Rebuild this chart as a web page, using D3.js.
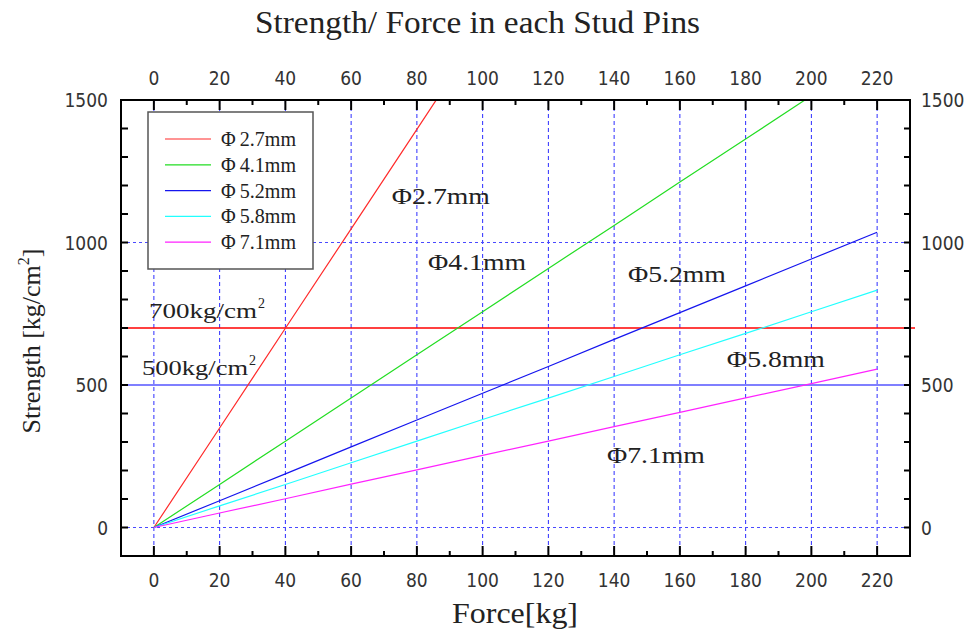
<!DOCTYPE html>
<html><head><meta charset="utf-8">
<script src="https://cdn.jsdelivr.net/npm/d3@7"></script>
<style>
body{margin:0;background:#fff;}
svg{display:block;}
.tick-label{font-family:"Liberation Sans Narrow","DejaVu Sans Condensed",sans-serif;font-size:19px;fill:#333;}
.serif{font-family:"Liberation Serif","DejaVu Serif",serif;fill:#222;}
</style></head>
<body>
<svg id="chart" width="971" height="633"></svg>
<script>
// ---- data ----
const forces = [0, 20, 40, 60, 80, 100, 120, 140, 160, 180, 200, 220];
const seriesNames = ["Φ2.7mm", "Φ4.1mm", "Φ5.2mm", "Φ5.8mm", "Φ7.1mm"];
const strength27 = [0, 349, 699, 1048, 1397, 1747, 2096, 2445, 2795, 3144, 3493, 3843];
const strength41 = [0, 151, 303, 454, 606, 757, 909, 1060, 1212, 1363, 1515, 1666];
const strength52 = [0, 94, 188, 283, 377, 471, 565, 660, 754, 848, 942, 1036];
const strength58 = [0, 76, 151, 227, 303, 379, 454, 530, 606, 681, 757, 833];
const strength71 = [0, 51, 101, 152, 202, 253, 303, 354, 404, 455, 505, 556];
const seriesColors = ["#ff2a2a", "#22dd22", "#1515ee", "#22ffff", "#ff22ff"];
const xTicks = [0, 20, 40, 60, 80, 100, 120, 140, 160, 180, 200, 220];
const yTicks = [0, 500, 1000, 1500];
const refValues = [700, 500];
const refLabels = ["700kg/cm", "500kg/cm"];
const refColors = ["#ff0000", "#5555ff"];
// in-plot annotation anchors (data coordinates)
const annoX = [72.4, 83.4, 144.2, 174.3, 137.8];
const annoY = [1135, 903, 861, 563, 226];
const refLabelX = [-1.5, -3.6];
const refLabelY = [735, 535];

const allSeries = [strength27, strength41, strength52, strength58, strength71];

// ---- layout ----
const svg = d3.select("#chart");
const L = 121, R = 910, T = 100, B = 556;
const x = d3.scaleLinear().domain([-10, 230]).range([L, R]);
const y = d3.scaleLinear().domain([-100, 1500]).range([B, T]);

svg.append("defs").append("clipPath").attr("id", "clip")
  .append("rect").attr("x", L).attr("y", T).attr("width", R - L).attr("height", B - T);

// grid: vertical dashed
svg.append("g").selectAll("line").data(xTicks).join("line")
  .attr("x1", d => x(d)).attr("x2", d => x(d)).attr("y1", T).attr("y2", B)
  .attr("stroke", "#2d2dff").attr("stroke-width", 1).attr("stroke-dasharray", "4,3");
// grid: horizontal dotted at 0 and 1000
svg.append("g").selectAll("line").data([0, 1000]).join("line")
  .attr("x1", L).attr("x2", R).attr("y1", d => y(d)).attr("y2", d => y(d))
  .attr("stroke", "#4a4aff").attr("stroke-width", 1).attr("stroke-dasharray", "3,3");

// reference lines
svg.append("g").selectAll("line").data(refValues).join("line")
  .attr("x1", L + 1).attr("x2", (d, i) => i === 0 ? R + 5 : R + 1)
  .attr("y1", d => y(d)).attr("y2", d => y(d))
  .attr("stroke", (d, i) => refColors[i]).attr("stroke-width", 1.5);

// series lines
const line = d3.line().x((d, i) => x(forces[i])).y(d => y(d));
svg.append("g").attr("clip-path", "url(#clip)").selectAll("path").data(allSeries).join("path")
  .attr("d", d => line(d)).attr("fill", "none")
  .attr("stroke", (d, i) => seriesColors[i]).attr("stroke-width", 1.2);

// frame
svg.append("rect").attr("x", L).attr("y", T).attr("width", R - L).attr("height", B - T)
  .attr("fill", "none").attr("stroke", "#000").attr("stroke-width", 2);

// minor/major ticks
const xMinor = d3.range(-10, 231, 10);
const yMinor = d3.range(-100, 1501, 100);
const tg = svg.append("g").attr("stroke", "#000").attr("stroke-width", 2);
xMinor.forEach(v => {
  if (v < -5 || v > 225) return;
  const len = (v % 20 === 0) ? 10 : 5;
  tg.append("line").attr("x1", x(v)).attr("x2", x(v)).attr("y1", T).attr("y2", T + len);
  tg.append("line").attr("x1", x(v)).attr("x2", x(v)).attr("y1", B).attr("y2", B - len);
});
yMinor.forEach(v => {
  if (v <= -100 || v >= 1500) return;
  tg.append("line").attr("x1", L).attr("x2", L + 7).attr("y1", y(v)).attr("y2", y(v));
  tg.append("line").attr("x1", R).attr("x2", R - 6).attr("y1", y(v)).attr("y2", y(v));
});

// tick labels
svg.append("g").selectAll("text").data(xTicks).join("text").attr("class", "tick-label")
  .attr("x", d => x(d)).attr("y", 85).attr("text-anchor", "middle").text(d => d);
svg.append("g").selectAll("text").data(xTicks).join("text").attr("class", "tick-label")
  .attr("x", d => x(d)).attr("y", 587).attr("text-anchor", "middle").text(d => d);
svg.append("g").selectAll("text").data(yTicks).join("text").attr("class", "tick-label")
  .attr("x", 108).attr("y", d => y(d) + 7).attr("text-anchor", "end").text(d => d);
svg.append("g").selectAll("text").data(yTicks).join("text").attr("class", "tick-label")
  .attr("x", 921).attr("y", d => y(d) + 7).attr("text-anchor", "start").text(d => d);

// title & axis titles
svg.append("text").attr("class", "serif").attr("x", 255).attr("y", 33)
  .attr("font-size", 31).attr("textLength", 445).attr("lengthAdjust", "spacingAndGlyphs")
  .text("Strength/ Force in each Stud Pins");
svg.append("text").attr("class", "serif").attr("x", 452).attr("y", 623)
  .attr("font-size", 29).attr("textLength", 126).attr("lengthAdjust", "spacingAndGlyphs")
  .text("Force[kg]");
const yl = svg.append("text").attr("class", "serif").attr("transform", "translate(40,341) rotate(-90)")
  .attr("text-anchor", "middle").attr("font-size", 26);
yl.append("tspan").text("Strength [kg/cm");
yl.append("tspan").attr("font-size", 16).attr("dy", -11).text("2");
yl.append("tspan").attr("dy", 11).text("]");

// reference labels
const refW = [108, 106];
refLabels.forEach((t, i) => {
  const x0 = x(refLabelX[i]), y0 = y(refLabelY[i]);
  svg.append("text").attr("class", "serif").attr("x", x0).attr("y", y0)
    .attr("font-size", 22).attr("textLength", refW[i]).attr("lengthAdjust", "spacingAndGlyphs").text(t);
  svg.append("text").attr("class", "serif").attr("x", x0 + refW[i] + 1).attr("y", y0 - 10)
    .attr("font-size", 14).text("2");
});

// in-plot annotations
svg.append("g").selectAll("text").data(seriesNames).join("text").attr("class", "serif")
  .attr("x", (d, i) => x(annoX[i])).attr("y", (d, i) => y(annoY[i]))
  .attr("font-size", 24).attr("textLength", 98).attr("lengthAdjust", "spacingAndGlyphs").text(d => d);

// legend
const lg = svg.append("g");
lg.append("rect").attr("x", 148).attr("y", 112).attr("width", 165).attr("height", 157)
  .attr("fill", "#fff").attr("stroke", "#555").attr("stroke-width", 1.5);
seriesNames.forEach((n, i) => {
  const yy = 139 + i * 25.8;
  lg.append("line").attr("x1", 165).attr("x2", 211).attr("y1", yy).attr("y2", yy)
    .attr("stroke", seriesColors[i]).attr("stroke-width", 1.2);
  lg.append("text").attr("class", "serif").attr("x", 221).attr("y", yy + 7)
    .attr("font-size", 20).attr("textLength", 75).attr("lengthAdjust", "spacingAndGlyphs")
    .text(n.replace("Φ", "Φ\u2009"));
});
</script>
</body></html>
